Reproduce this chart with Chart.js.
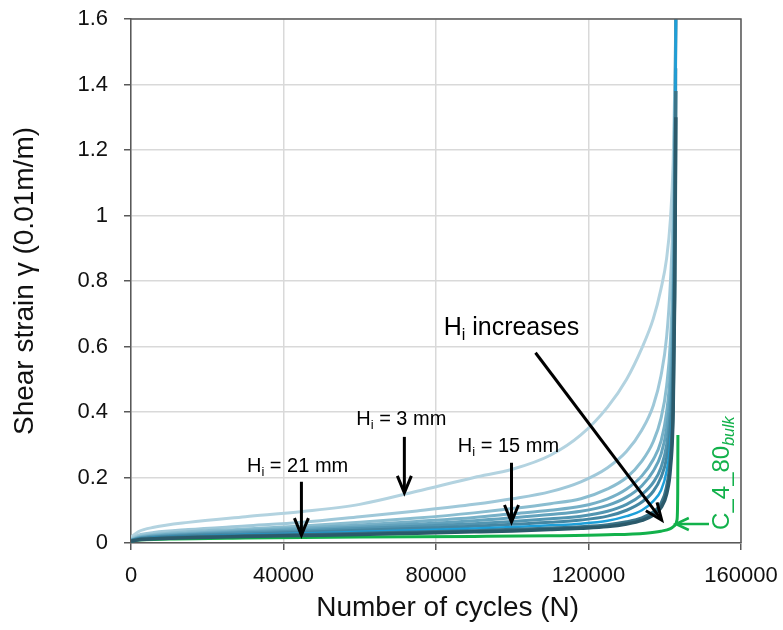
<!DOCTYPE html>
<html>
<head>
<meta charset="utf-8">
<script src="https://cdn.jsdelivr.net/npm/chart.js@4"></script>
<style>
  html, body { margin: 0; padding: 0; background: #fff; }
  #wrap { width: 783px; height: 630px; }
</style>
</head>
<body>
<div id="wrap"><canvas id="strainChart" width="783" height="630"></canvas></div>
<script>
// cycle counts shared by the interface-thickness curves
const cycles = [0, 2000, 6000, 15000, 30000, 45000, 60000, 75000, 90000, 100000, 110000,
  118000, 125000, 130000, 134000, 137000, 139000, 140500, 141500, 142200, 142600, 142900];

// shear strain, lightest (Hi = 3 mm) to darkest (Hi = 21 mm)
const strainH3  = [0.018, 0.035, 0.048, 0.063, 0.080, 0.096, 0.118, 0.158, 0.200, 0.225, 0.268, 0.330, 0.415, 0.500, 0.595, 0.685, 0.775, 0.870, 0.990, 1.160, 1.380, 1.600];
const strainH6  = [0.012, 0.024, 0.032, 0.041, 0.052, 0.063, 0.080, 0.098, 0.118, 0.135, 0.157, 0.187, 0.230, 0.280, 0.345, 0.420, 0.510, 0.630, 0.800, 1.020, 1.320, 1.600];
const strainH8  = [0.010, 0.019, 0.026, 0.034, 0.043, 0.052, 0.063, 0.076, 0.092, 0.105, 0.120, 0.135, 0.165, 0.200, 0.250, 0.310, 0.380, 0.480, 0.620, 0.850, 1.200, 1.600];
const strainH10 = [0.009, 0.017, 0.023, 0.030, 0.038, 0.046, 0.055, 0.066, 0.078, 0.089, 0.100, 0.112, 0.135, 0.165, 0.205, 0.255, 0.310, 0.400, 0.530, 0.750, 1.100, 1.600];
const strainH12 = [0.008, 0.015, 0.021, 0.027, 0.034, 0.041, 0.049, 0.058, 0.068, 0.077, 0.087, 0.097, 0.115, 0.140, 0.175, 0.220, 0.270, 0.350, 0.470, 0.680, 1.050, 1.600];
const strainH15 = [0.008, 0.014, 0.019, 0.025, 0.031, 0.037, 0.044, 0.051, 0.059, 0.066, 0.074, 0.082, 0.097, 0.118, 0.148, 0.185, 0.230, 0.300, 0.410, 0.600, 0.980, 1.600];
const strainH17 = [0.007, 0.013, 0.017, 0.022, 0.027, 0.033, 0.039, 0.045, 0.051, 0.057, 0.063, 0.070, 0.082, 0.100, 0.125, 0.158, 0.200, 0.260, 0.360, 0.540, 0.920, 1.450];
const strainH19 = [0.007, 0.012, 0.016, 0.020, 0.025, 0.029, 0.034, 0.039, 0.044, 0.049, 0.054, 0.059, 0.068, 0.082, 0.100, 0.128, 0.160, 0.220, 0.310, 0.480, 0.850, 1.600];
const strainH21 = [0.006, 0.011, 0.014, 0.018, 0.022, 0.025, 0.029, 0.033, 0.037, 0.041, 0.045, 0.049, 0.055, 0.064, 0.076, 0.094, 0.120, 0.170, 0.260, 0.440, 0.800, 1.380];
const strainH24 = [0.005, 0.010, 0.013, 0.016, 0.020, 0.023, 0.026, 0.030, 0.034, 0.037, 0.041, 0.045, 0.050, 0.058, 0.069, 0.085, 0.108, 0.150, 0.230, 0.400, 0.750, 1.300];

const blueSeries = [strainH3, strainH6, strainH8, strainH10, strainH12, strainH15, strainH17, strainH19, strainH21, strainH24];
const blueColors = ["#b3d3e0", "#9fc8d9", "#8abdd0", "#76b0c7", "#63a3bd", "#5295b1", "#4486a2", "#1d9fd9", "#3a7489", "#2b5a6b"];
const blueWidths = [3, 3, 3, 3, 3, 3, 3, 2.5, 3.5, 3.5];

// bulk specimen C_4_80
const bulkCycles = [0, 2000, 10000, 30000, 60000, 90000, 110000, 125000, 135000, 139000, 141500, 142700, 143200, 143400, 143450];
const bulkStrain = [0.006, 0.009, 0.012, 0.015, 0.018, 0.020, 0.022, 0.025, 0.030, 0.036, 0.044, 0.054, 0.070, 0.150, 0.330];

const xTicks = [0, 40000, 80000, 120000, 160000];
const yTicks = [0, 0.2, 0.4, 0.6, 0.8, 1, 1.2, 1.4, 1.6];

// annotations: [text after "Hi", label x, label y, arrow from x, y, arrow to x, y]
const notes = [
  [" = 3 mm", 70900, 0.361, 71700, 0.324, 71700, 0.153],
  [" = 21 mm", 43700, 0.217, 44700, 0.187, 44700, 0.024],
  [" = 15 mm", 99000, 0.278, 99800, 0.245, 99800, 0.064]
];
const trendNote = [" increases", 82000, 0.636, 106100, 0.581, 139200, 0.070];
const bulkNote = ["C_4_80", "bulk", 156900, 0.040, 151600, 0.058, 142900, 0.058];

const FONT = '"Liberation Sans", Arial, sans-serif';

function drawArrow(ctx, x1, y1, x2, y2, color, width, len, half) {
  const ang = Math.atan2(y2 - y1, x2 - x1);
  ctx.save();
  ctx.strokeStyle = color;
  ctx.lineWidth = width;
  ctx.lineCap = "butt";
  ctx.lineJoin = "miter";
  ctx.beginPath();
  ctx.moveTo(x1, y1);
  ctx.lineTo(x2 - Math.cos(ang) * 1.5, y2 - Math.sin(ang) * 1.5);
  ctx.stroke();
  ctx.beginPath();
  const bx = x2 - Math.cos(ang) * len, by = y2 - Math.sin(ang) * len;
  ctx.moveTo(bx + Math.cos(ang + Math.PI / 2) * half, by + Math.sin(ang + Math.PI / 2) * half);
  ctx.lineTo(x2, y2);
  ctx.lineTo(bx - Math.cos(ang + Math.PI / 2) * half, by - Math.sin(ang + Math.PI / 2) * half);
  ctx.stroke();
  ctx.restore();
}

function drawHi(ctx, x, y, rest, size, align) {
  const mainFont = `${size}px ${FONT}`;
  const subFont = `${Math.round(size * 0.65)}px ${FONT}`;
  ctx.font = mainFont;
  const wH = ctx.measureText("H").width;
  const wRest = ctx.measureText(rest).width;
  ctx.font = subFont;
  const wi = ctx.measureText("i").width;
  const total = wH + wi + wRest;
  let sx = align === "center" ? x - total / 2 : x;
  ctx.textAlign = "left";
  ctx.textBaseline = "alphabetic";
  ctx.fillStyle = "#000";
  ctx.font = mainFont;
  ctx.fillText("H", sx, y);
  ctx.font = subFont;
  ctx.fillText("i", sx + wH, y + size * 0.22);
  ctx.font = mainFont;
  ctx.fillText(rest, sx + wH + wi, y);
}

const notesPlugin = {
  id: "notes",
  afterDraw(chart) {
    const { ctx, chartArea, scales: { x, y } } = chart;
    ctx.save();
    // frame on top and right
    ctx.strokeStyle = "#595959";
    ctx.lineWidth = 1.5;
    ctx.beginPath();
    ctx.moveTo(chartArea.left, chartArea.top);
    ctx.lineTo(chartArea.right, chartArea.top);
    ctx.lineTo(chartArea.right, chartArea.bottom);
    ctx.stroke();

    notes.forEach(n => {
      drawHi(ctx, x.getPixelForValue(n[1]), y.getPixelForValue(n[2]), n[0], 20, "center");
      drawArrow(ctx, x.getPixelForValue(n[3]), y.getPixelForValue(n[4]),
        x.getPixelForValue(n[5]), y.getPixelForValue(n[6]), "#000", 3, 17, 7);
    });

    drawHi(ctx, x.getPixelForValue(trendNote[1]), y.getPixelForValue(trendNote[2]), trendNote[0], 25, "left");
    drawArrow(ctx, x.getPixelForValue(trendNote[3]), y.getPixelForValue(trendNote[4]),
      x.getPixelForValue(trendNote[5]), y.getPixelForValue(trendNote[6]), "#000", 3, 17, 7);

    // bulk label, rotated
    const green = "#12b14b";
    drawArrow(ctx, x.getPixelForValue(bulkNote[4]), y.getPixelForValue(bulkNote[5]),
      x.getPixelForValue(bulkNote[6]), y.getPixelForValue(bulkNote[7]), green, 2.5, 13, 6);
    ctx.save();
    ctx.translate(x.getPixelForValue(bulkNote[2]), y.getPixelForValue(bulkNote[3]));
    ctx.rotate(-Math.PI / 2);
    ctx.fillStyle = green;
    ctx.textAlign = "left";
    ctx.textBaseline = "alphabetic";
    ctx.font = `24px ${FONT}`;
    ctx.fillText(bulkNote[0], 0, 0);
    const w = ctx.measureText(bulkNote[0]).width;
    ctx.font = `italic 16px ${FONT}`;
    ctx.fillText(bulkNote[1], w, 5);
    ctx.restore();
    ctx.restore();
  }
};

const datasets = blueSeries.map((s, k) => ({
  data: cycles.map((n, i) => ({ x: n, y: s[i] })),
  borderColor: blueColors[k],
  borderWidth: blueWidths[k],
  order: blueSeries.length - k
}));
datasets.push({
  data: bulkCycles.map((n, i) => ({ x: n, y: bulkStrain[i] })),
  borderColor: "#12b14b",
  borderWidth: 3,
  order: 20
});

// keep the plot box fixed: scales add no label overhang of their own
function noOverhang(s) {
  s.paddingTop = 0;
  s.paddingBottom = 0;
  s.paddingLeft = 0;
  s.paddingRight = 0;
}

new Chart(document.getElementById("strainChart"), {
  type: "line",
  data: { datasets },
  options: {
    responsive: false,
    devicePixelRatio: 1,
    animation: false,
    layout: { padding: { left: 0, right: 42, top: 19, bottom: 0 } },
    elements: {
      point: { radius: 0 },
      line: { cubicInterpolationMode: "monotone", fill: false }
    },
    plugins: { legend: { display: false }, tooltip: { enabled: false } },
    scales: {
      x: {
        type: "linear",
        min: 0,
        max: 160000,
        afterBuildTicks: s => { s.ticks = xTicks.map(v => ({ value: v })); },
        afterFit: s => { s.height = 87; noOverhang(s); },
        ticks: { color: "#111", font: { family: FONT, size: 22 }, padding: 13, maxRotation: 0, callback: v => String(v) },
        grid: { color: "#d9d9d9", lineWidth: 1.5, tickColor: "#595959", tickLength: 7 },
        border: { color: "#595959", width: 1.5 },
        title: { display: true, text: "   Number of cycles (N)", color: "#111", font: { family: FONT, size: 28 }, padding: { top: 0, bottom: 5 } }
      },
      y: {
        min: 0,
        max: 1.6,
        afterBuildTicks: s => { s.ticks = yTicks.map(v => ({ value: v })); },
        afterFit: s => { s.width = 131; noOverhang(s); },
        ticks: { color: "#111", font: { family: FONT, size: 22 }, padding: 16, callback: v => String(Math.round(v * 10) / 10) },
        grid: { color: "#d9d9d9", lineWidth: 1.5, tickColor: "#595959", tickLength: 7 },
        border: { color: "#595959", width: 1.5 },
        title: { display: true, text: "Shear strain γ (0.01m/m)", color: "#111", font: { family: FONT, size: 28 }, padding: { top: 8, bottom: 0 } }
      }
    }
  },
  plugins: [notesPlugin]
});
</script>
</body>
</html>
